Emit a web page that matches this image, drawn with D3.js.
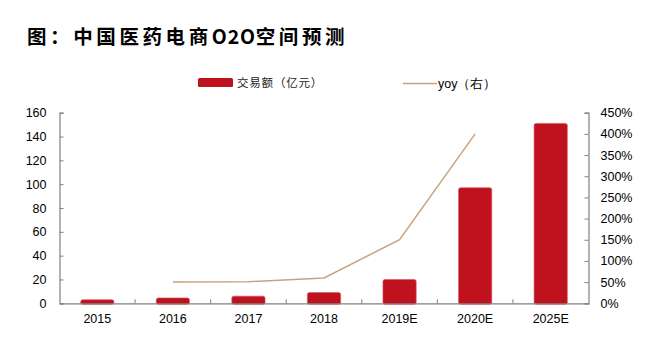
<!DOCTYPE html>
<html><head><meta charset="utf-8">
<script src="https://cdn.jsdelivr.net/npm/d3@7"></script>
<style>body{margin:0;background:#fff}svg{display:block}</style>
</head><body>
<svg id="c" width="655" height="346"></svg>
<script>
const categories = ["2015","2016","2017","2018","2019E","2020E","2025E"];
const amount = [3, 4.5, 6, 9, 20, 97, 151];
const yoyCats = ["2016","2017","2018","2019E","2020E"];
const yoy = [50, 51, 60, 150, 400];
const leftTicks = [0,20,40,60,80,100,120,140,160];
const rightTicks = [0,50,100,150,200,250,300,350,400,450];
const titleParts = ["图：中国医药电商", "O2O", "空间预测"];
const legendBar = "交易额（亿元）";
const legendLine = "yoy（右）";

const svg = d3.select("#c");
const L = 59.5, R = 588.5, T = 112.7, B = 303.3;
const x = d3.scaleBand().domain(categories).range([L, R]).paddingInner(0.56).paddingOuter(0.28);
const xb = d3.scaleBand().domain(categories).range([L, R]);
const y = d3.scaleLinear().domain([0,160]).range([B, T]);
const y2 = d3.scaleLinear().domain([0,450]).range([B, T]);
const font = "'Liberation Sans', Arial, sans-serif";
const axisCol = "#808080";

const t = svg.append("text").attr("x", 27).attr("y", 44)
  .attr("font-family","'Noto Sans CJK SC', sans-serif").attr("font-weight",700)
  .attr("font-size",19.5).attr("fill","#000");
t.selectAll("tspan").data(titleParts).join("tspan").text(d => d)
  .attr("letter-spacing", (d,i) => i === 1 ? 0.8 : 3.6);

// bars
svg.append("g").selectAll("rect").data(categories).join("rect")
  .attr("x", d => x(d)).attr("width", x.bandwidth())
  .attr("y", (d,i) => y(amount[i])).attr("height", (d,i) => B - y(amount[i]) + 1)
  .attr("rx", 2).attr("fill", "#c0111f").attr("stroke","#d9545e").attr("stroke-width",0.6);

// line
const line = d3.line().x((d,i) => xb(yoyCats[i]) + xb.bandwidth()/2).y(d => y2(d));
svg.append("path").datum(yoy).attr("d", line).attr("fill","none")
  .attr("stroke","#c9a27e").attr("stroke-width",1.5);

// axes
const gl = svg.append("g").attr("transform",`translate(${L},0)`)
  .call(d3.axisLeft(y).tickValues(leftTicks).tickSize(-4).tickPadding(13));
const gr = svg.append("g").attr("transform",`translate(${R},0)`)
  .call(d3.axisRight(y2).tickValues(rightTicks).tickSize(-4).tickPadding(12).tickFormat(d => d + "%"));
const gx = svg.append("g").attr("transform",`translate(0,${B})`)
  .call(d3.axisBottom(xb).tickSize(0).tickPadding(11));
gx.append("g").selectAll("line").data(categories.slice(1)).join("line")
  .attr("x1", d => xb(d)).attr("x2", d => xb(d)).attr("y1",0).attr("y2",-4).attr("stroke",axisCol);
[gl,gr,gx].forEach(g => {
  g.selectAll("path.domain").attr("stroke",axisCol).attr("stroke-width",1.2);
  g.selectAll(".tick line").attr("stroke",axisCol);
  g.selectAll("text").attr("font-family",font).attr("font-size",12.5).attr("fill","#000");
});

// legend
svg.append("rect").attr("x",198).attr("y",78).attr("width",35).attr("height",9).attr("rx",1.5).attr("fill","#c0111f");
svg.append("text").attr("x",237).attr("y",87).text(legendBar)
  .attr("font-family","'Noto Sans CJK SC', sans-serif").attr("font-size",11.5).attr("letter-spacing",0.8).attr("fill","#222");
svg.append("line").attr("x1",403).attr("x2",437).attr("y1",83.5).attr("y2",83.5).attr("stroke","#c9a27e").attr("stroke-width",1.3);
svg.append("text").attr("x",438).attr("y",88).text(legendLine)
  .attr("font-family",font).attr("font-size",12.5).attr("fill","#000");
</script>
</body></html>
